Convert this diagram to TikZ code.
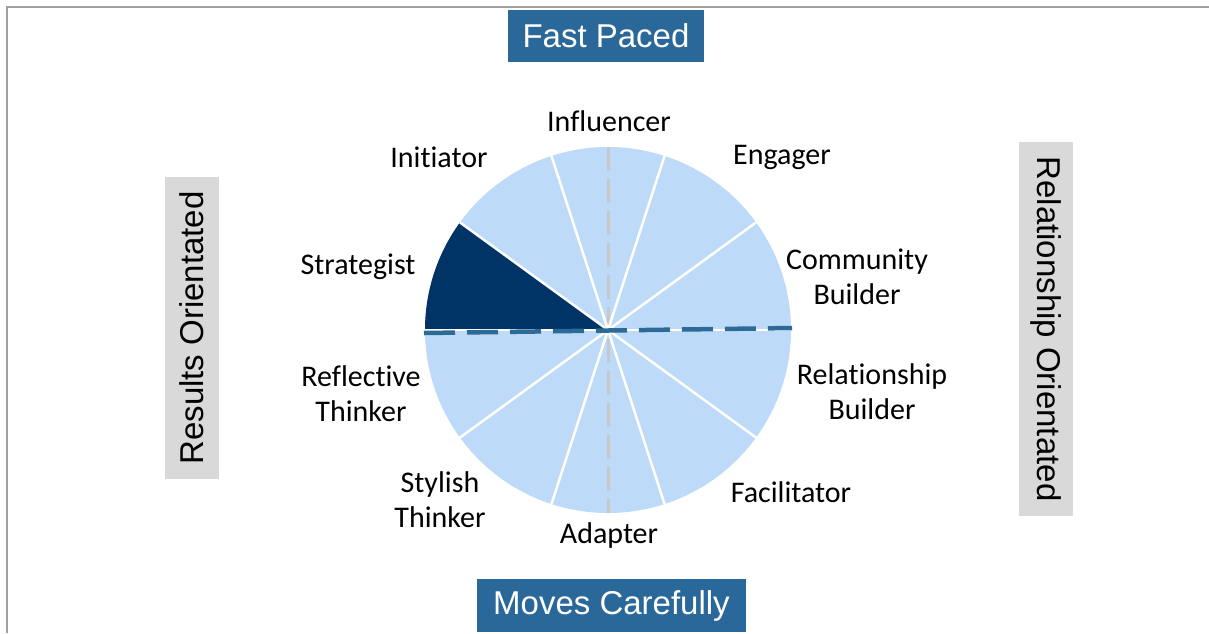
\documentclass[tikz,border=0pt]{standalone}
\usepackage{fontspec}
\setmainfont{Carlito}[Ligatures=NoCommon]
\newfontfamily\arialf{Liberation Sans}
\definecolor{lightpie}{RGB}{189,219,248}
\definecolor{navypie}{RGB}{0,51,102}
\definecolor{steelbox}{RGB}{42,104,153}
\definecolor{graybox}{RGB}{217,217,217}
\definecolor{dashblue}{RGB}{46,106,150}
\definecolor{framegray}{RGB}{160,160,160}
\definecolor{vgray}{RGB}{200,200,200}
\tikzset{
  lbl/.style={font=\fontsize{30}{35}\selectfont, align=center, text=black, inner sep=0pt},
  axisblue/.style={fill=steelbox, text=white, font=\arialf\fontsize{33}{40}\selectfont, inner sep=0pt},
  axisgray/.style={fill=graybox, text=black, font=\arialf\fontsize{33}{40}\selectfont, inner sep=0pt},
}
\begin{document}
\begin{tikzpicture}[x=1pt,y=-1pt]
\useasboundingbox (0,0) rectangle (1209,633);
\fill[white] (0,0) rectangle (1209,633);
\draw[framegray, line width=1.5pt] (7,633) -- (7,7) -- (1209,7);

\begin{scope}[shift={(608,330)}, yscale=-1]
  \foreach \a in {0,36,...,324} {
    \fill[lightpie] (0,0) -- (\a:183) arc[start angle=\a, end angle=\a+36, radius=183] -- cycle;
  }
  \fill[navypie] (0,0) -- (144:183) arc[start angle=144, end angle=180, radius=183] -- cycle;
  \draw[vgray, line width=3pt, dash pattern=on 24pt off 8pt] (0,183) -- (0,-183);
  \foreach \a in {0,36,...,324} {
    \draw[white, line width=2.5pt] (0,0) -- (\a:183);
  }
  \draw[dashblue, line width=4.5pt, dash pattern=on 31pt off 12pt] (-184,-3) -- (184,2);
\end{scope}

\node[axisblue, minimum width=196pt, minimum height=52pt] (fast) at (606,36) {Fast Paced};
\node[axisblue, minimum width=269pt, minimum height=53pt] (moves) at (611.5,605.5) {Moves Carefully};
\node[axisgray, rotate=90, minimum width=302pt, minimum height=54pt] (results) at (192,328) {Results Orientated};
\node[axisgray, rotate=-90, minimum width=374pt, minimum height=54pt] (relor) at (1046,329) {Relationship Orientated};

\node[lbl] (influencer) at (609,121) {Influencer};
\node[lbl] (initiator) at (439,157) {Initiator};
\node[lbl] (engager) at (782,157) {Engager};
\node[lbl] (community) at (857,277) {Community\\Builder};
\node[lbl] (relbuilder) at (872,392) {Relationship\\Builder};
\node[lbl] (facilitator) at (791,492) {Facilitator};
\node[lbl] (adapter) at (609,535) {Adapter};
\node[lbl] (stylish) at (440,500) {Stylish\\Thinker};
\node[lbl] (reflective) at (361,394) {Reflective\\Thinker};
\node[lbl] (strategist) at (358,267) {Strategist};
\end{tikzpicture}
\end{document}
